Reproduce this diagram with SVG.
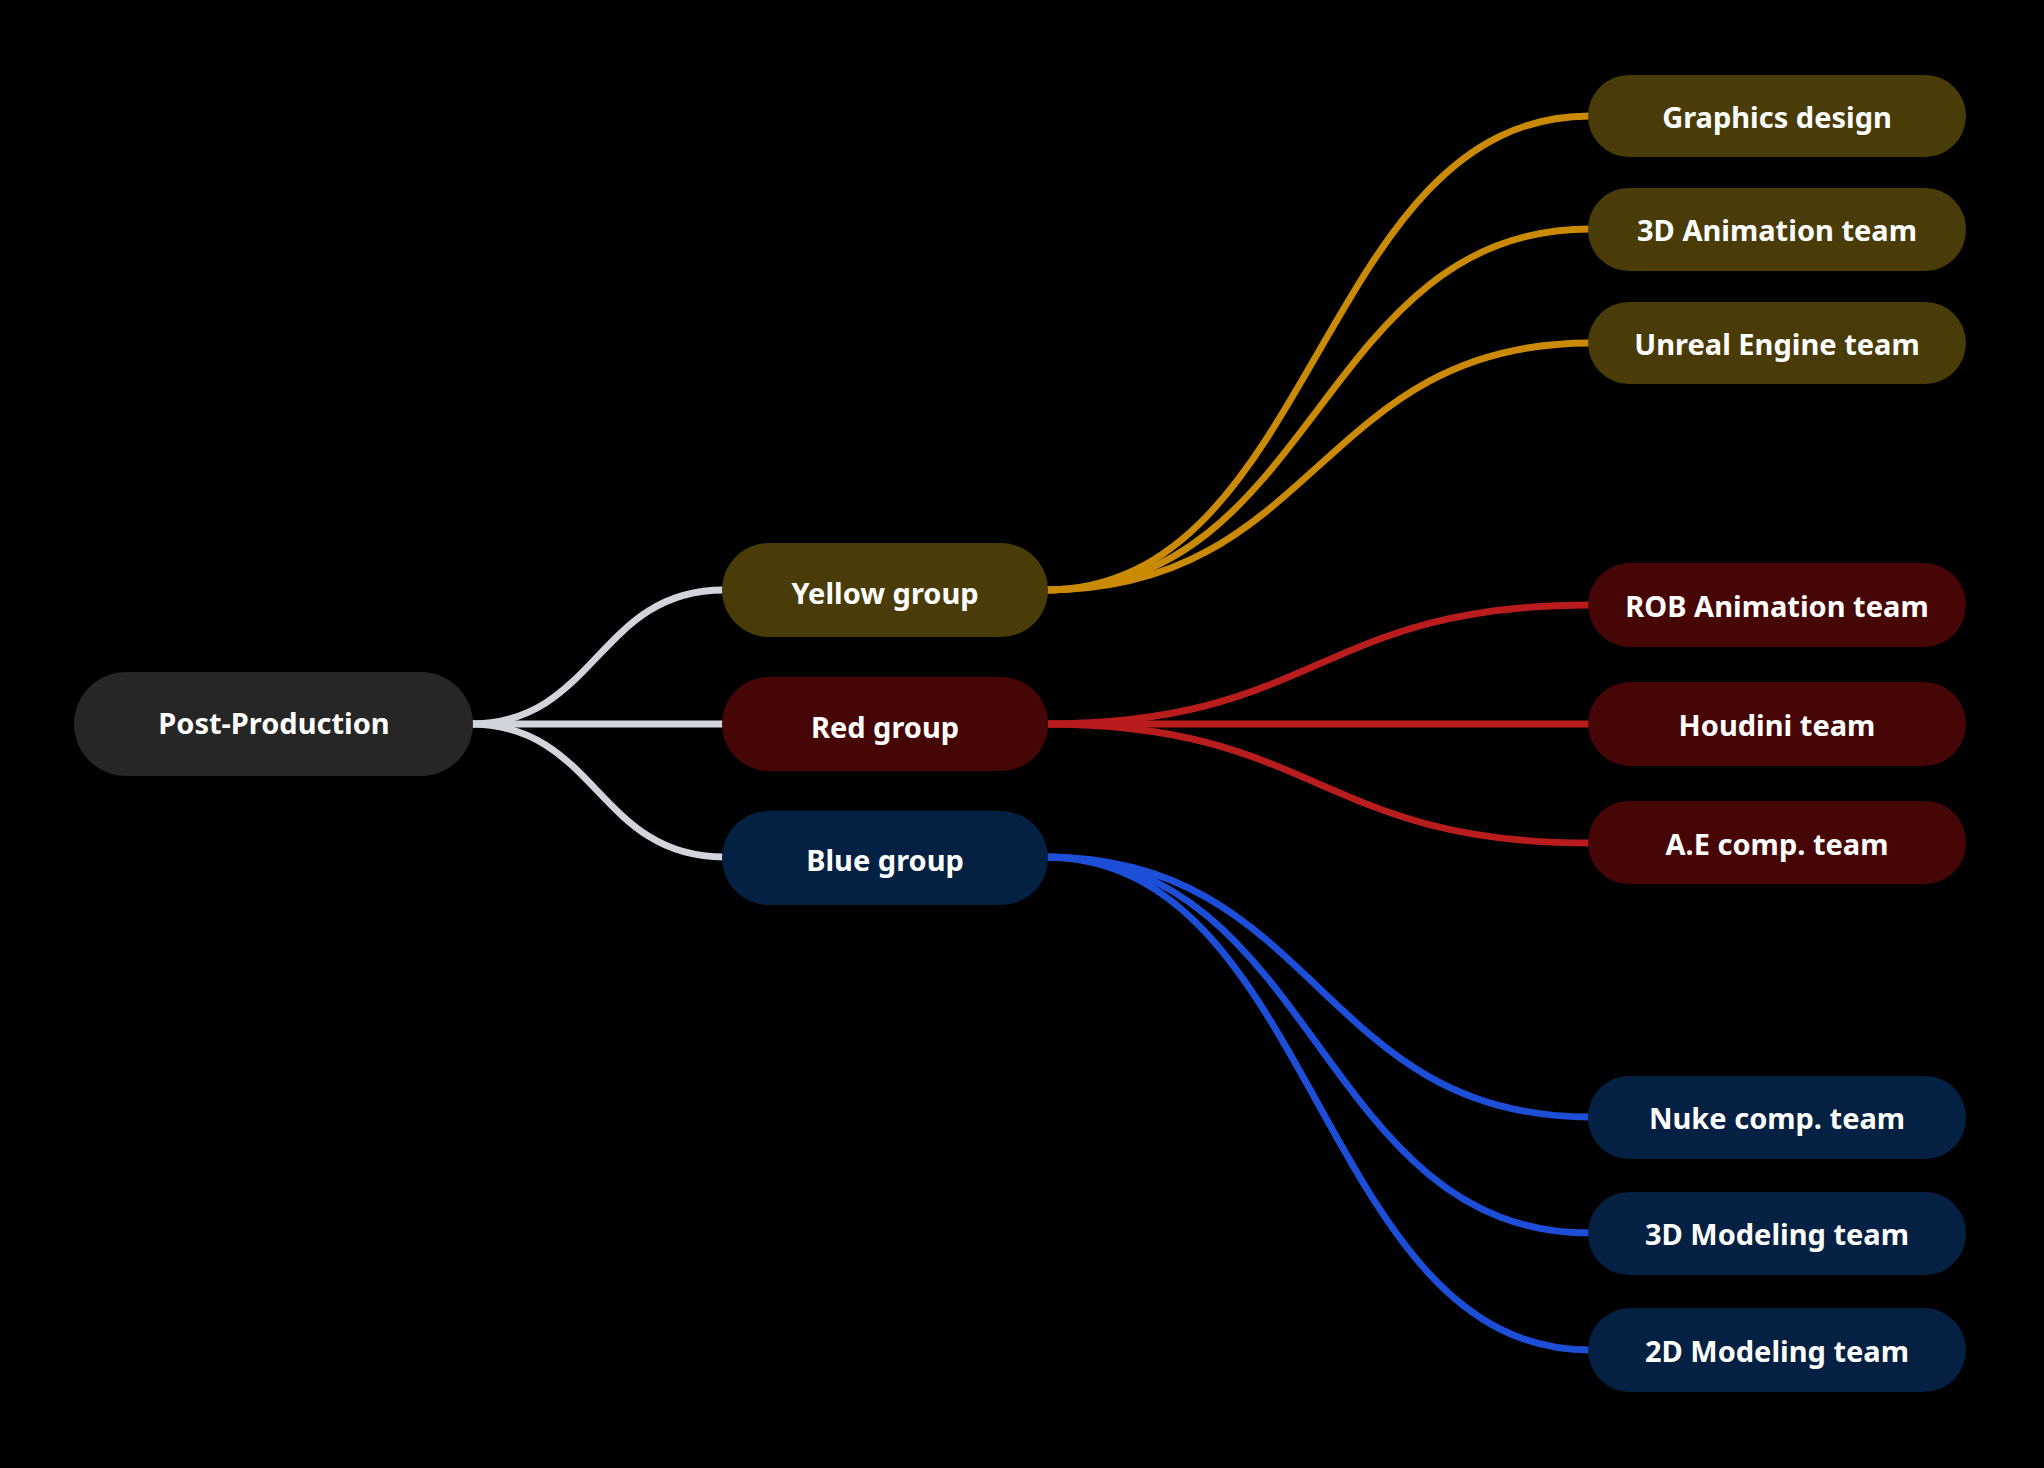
<svg xmlns="http://www.w3.org/2000/svg" width="2044" height="1468" viewBox="0 0 2044 1468">
<style>
.lbl{font-family:"Noto Sans","Open Sans","Liberation Sans",sans-serif;font-weight:700;font-size:29px;fill:#ffffff;text-anchor:middle}
.c{fill:none;stroke-width:6.8;stroke-linecap:butt}
.cg{stroke:#d1d5db}
.cy{stroke:#ca8a04}
.cr{stroke:#b91c1c}
.cb{stroke:#1d4ed8}
.root{fill:#262626}
.ny{fill:#4a3c08}
.nr{fill:#470606}
.nb{fill:#042042}
</style>
<rect x="0" y="0" width="2044" height="1468" fill="#000000"/>
<g id="connectors">
<path class="c cg" d="M470,724 C597,724 597,590 724,590"/>
<path class="c cg" d="M470,724 L724,724"/>
<path class="c cg" d="M470,724 C597,724 597,857 724,857"/>
<path class="c cy" d="M1045,590 C1318,590 1318,116 1590,116"/>
<path class="c cy" d="M1045,590 C1318,590 1318,229 1590,229"/>
<path class="c cy" d="M1045,590 C1318,590 1318,343 1590,343"/>
<path class="c cr" d="M1045,724 C1318,724 1318,605 1590,605"/>
<path class="c cr" d="M1045,724 L1590,724"/>
<path class="c cr" d="M1045,724 C1318,724 1318,843 1590,843"/>
<path class="c cb" d="M1045,857 C1318,857 1318,1117 1590,1117"/>
<path class="c cb" d="M1045,857 C1318,857 1318,1233 1590,1233"/>
<path class="c cb" d="M1045,857 C1318,857 1318,1350 1590,1350"/>
</g>
<g id="post-production"><rect class="root" x="74" y="672" width="399" height="104" rx="52"/><text class="lbl" x="274" y="734">Post-Production</text></g>
<g id="yellow-group"><rect class="ny" x="722" y="543" width="326" height="94" rx="47"/><text class="lbl" x="885" y="604">Yellow group</text></g>
<g id="red-group"><rect class="nr" x="722" y="677" width="326" height="94" rx="47"/><text class="lbl" x="885" y="738">Red group</text></g>
<g id="blue-group"><rect class="nb" x="722" y="811" width="326" height="94" rx="47"/><text class="lbl" x="885" y="871">Blue group</text></g>
<g id="graphics-design"><rect class="ny" x="1588" y="75" width="378" height="82" rx="41"/><text class="lbl" x="1777" y="128">Graphics design</text></g>
<g id="3d-animation-team"><rect class="ny" x="1588" y="188" width="378" height="83" rx="41"/><text class="lbl" x="1777" y="241">3D Animation team</text></g>
<g id="unreal-engine-team"><rect class="ny" x="1588" y="302" width="378" height="82" rx="41"/><text class="lbl" x="1777" y="355">Unreal Engine team</text></g>
<g id="rob-animation-team"><rect class="nr" x="1588" y="563" width="378" height="84" rx="42"/><text class="lbl" x="1777" y="617">ROB Animation team</text></g>
<g id="houdini-team"><rect class="nr" x="1588" y="682" width="378" height="84" rx="42"/><text class="lbl" x="1777" y="736">Houdini team</text></g>
<g id="ae-comp-team"><rect class="nr" x="1588" y="801" width="378" height="83" rx="41"/><text class="lbl" x="1777" y="855">A.E comp. team</text></g>
<g id="nuke-comp-team"><rect class="nb" x="1588" y="1076" width="378" height="83" rx="41"/><text class="lbl" x="1777" y="1129">Nuke comp. team</text></g>
<g id="3d-modeling-team"><rect class="nb" x="1588" y="1192" width="378" height="83" rx="41"/><text class="lbl" x="1777" y="1245">3D Modeling team</text></g>
<g id="2d-modeling-team"><rect class="nb" x="1588" y="1308" width="378" height="84" rx="42"/><text class="lbl" x="1777" y="1362">2D Modeling team</text></g>
</svg>
